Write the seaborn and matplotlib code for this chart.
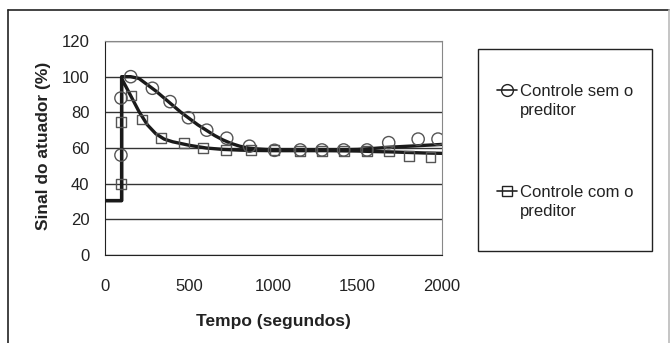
import numpy as np
import pandas as pd
import matplotlib
matplotlib.use("Agg")
import matplotlib.pyplot as plt
import seaborn as sns
from matplotlib.lines import Line2D
from matplotlib.patches import Rectangle

# %% Dados

# curvas continuas (tempo em s, sinal em %)
tempo_sem = [0, 97, 97, 150, 200, 250, 300, 350, 400, 450, 500, 550, 600, 650, 700,
             750, 800, 850, 900, 950, 1000, 1100, 1200, 1300, 1400, 1500, 1600, 1700,
             1800, 1900, 2000]
sinal_sem = [30.5, 30.5, 100, 100, 99, 95.5, 92, 88, 84, 80, 76.5, 73, 70, 67, 64.5,
             62.5, 61, 60, 59.5, 59.2, 59, 59, 59, 59, 59, 59.2, 59.8, 60.5,
             61, 61.5, 62]

tempo_com = [0, 97, 97, 125, 150, 175, 200, 250, 300, 350, 400, 450, 500, 600, 700,
             800, 900, 1000, 1100, 1200, 1300, 1400, 1500, 1600, 1700, 1800, 1900, 2000]
sinal_com = [30.5, 30.5, 99, 94, 89.5, 85, 80.5, 73, 68, 65, 63.5, 62.5, 61.5, 60, 59.2,
             58.8, 58.6, 58.5, 58.5, 58.5, 58.5, 58.4, 58.3, 58, 57.8, 57.5, 57.2, 57]

# marcadores
marc_t_sem = [93, 93, 151, 280, 385, 494, 603, 722, 857, 1006, 1159, 1288, 1417, 1556,
              1685, 1860, 1978]
marc_v_sem = [56, 88, 100, 93.5, 86, 77, 70, 65.5, 61, 58.7, 58.9, 58.9, 58.9, 58.9,
              63, 65, 65]
marc_t_com = [93, 93, 151, 220, 331, 468, 583, 716, 865, 1006, 1159, 1288, 1417, 1556,
              1685, 1804, 1933]
marc_v_com = [39.6, 74.8, 89.4, 76, 65.4, 62.6, 60, 58.7, 58.7, 58.7, 58.5, 58.5, 58.5,
              58.5, 58.5, 55.5, 54.8]

rotulo_sem = "Controle sem o\npreditor"
rotulo_com = "Controle com o\npreditor"

# %% Estilo
sns.set_style("white")
plt.rcParams['font.family'] = ['Liberation Sans', 'DejaVu Sans']

df_linhas = pd.concat([
    pd.DataFrame({'tempo': tempo_sem, 'sinal': sinal_sem, 'serie': 'sem'}),
    pd.DataFrame({'tempo': tempo_com, 'sinal': sinal_com, 'serie': 'com'}),
], ignore_index=True)

fig = plt.figure(figsize=(6.7, 3.43), dpi=100)
W, H = 670, 343
ax = fig.add_axes([105.3 / W, 1 - 255 / H, 336.4 / W, 214 / H])

sns.lineplot(data=df_linhas, x='tempo', y='sinal', units='serie', estimator=None,
             sort=False, color='#1a1a1a', linewidth=2.4, ax=ax, zorder=3)

sns.scatterplot(x=marc_t_sem, y=marc_v_sem, marker='o', s=78, facecolor='none',
                edgecolor='#555555', linewidth=1.0, ax=ax, zorder=4)
sns.scatterplot(x=marc_t_com, y=marc_v_com, marker='s', s=50, facecolor='none',
                edgecolor='#555555', linewidth=1.0, ax=ax, zorder=4)

ax.set_xlim(0, 2000)
ax.set_ylim(0, 120)
ax.set_xticks(np.arange(0, 2001, 500))
ax.set_yticks(np.arange(0, 121, 20))
ax.yaxis.grid(True, color='#333333', linewidth=1.0)
ax.set_axisbelow(True)

for lado in ['top', 'right']:
    ax.spines[lado].set_color('#888888')
for lado in ['left', 'bottom']:
    ax.spines[lado].set_color('#222222')
ax.tick_params(axis='both', direction='out', length=5.5, width=1, color='#222222',
               labelsize=12, labelcolor='#222222')
ax.tick_params(axis='y', pad=6)
ax.tick_params(axis='x', pad=12)

ax.set_xlabel('Tempo (segundos)', fontsize=12.5, fontweight='bold', color='#222222')
ax.set_ylabel('Sinal do atuador (%)', fontsize=12.5, fontweight='bold', color='#222222')
ax.xaxis.set_label_coords(0.501, -0.276)
ax.yaxis.set_label_coords(-0.162, 0.509)

# %% Legenda manual
fig.add_artist(Rectangle((478 / W, 1 - 251 / H), 174 / W, 202 / H, transform=fig.transFigure,
                         facecolor='white', edgecolor='#222222', linewidth=1.0))
for y_px, mk, ms, rot in [(90, 'o', 8.5, rotulo_sem), (191, 's', 7, rotulo_com)]:
    fig.add_artist(Line2D([497 / W, 517 / W], [1 - y_px / H, 1 - y_px / H],
                          transform=fig.transFigure, color='#222222', linewidth=1.2))
    fig.add_artist(Line2D([507 / W], [1 - y_px / H], transform=fig.transFigure,
                          marker=mk, markersize=ms, markerfacecolor='none',
                          markeredgecolor='#222222', markeredgewidth=1.0))
    fig.text(520 / W, 1 - (y_px + 11) / H, rot, fontsize=12, color='#222222',
             ha='left', va='center', linespacing=1.3)

# moldura externa
fig.add_artist(Line2D([8 / W, 669 / W], [1 - 10 / H, 1 - 10 / H], transform=fig.transFigure,
                      color='#222222', linewidth=1.2))
fig.add_artist(Line2D([8 / W, 8 / W], [1 - 10 / H, 0], transform=fig.transFigure,
                      color='#222222', linewidth=1.2))
fig.add_artist(Line2D([669 / W, 669 / W], [1 - 10 / H, 0], transform=fig.transFigure,
                      color='#bbbbbb', linewidth=1.2))

fig.savefig('out.png', dpi=100)
